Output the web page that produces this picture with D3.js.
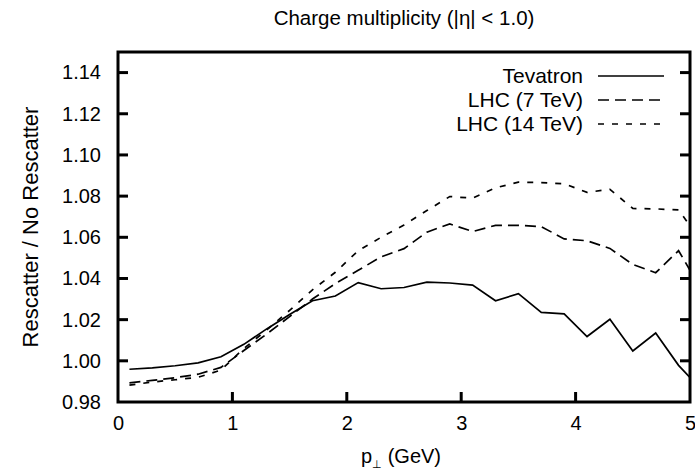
<!DOCTYPE html>
<html>
<head>
<meta charset="utf-8">
<script src="https://cdn.jsdelivr.net/npm/d3@7"></script>
<style>
  body { margin: 0; background: #fff; }
  svg text { font-family: "Liberation Sans", Arial, sans-serif; fill: #000; }
</style>
</head>
<body>
<script>
// pT bin centres (GeV) and ratios
var pt = [0.1, 0.3, 0.5, 0.7, 0.9, 1.1, 1.3, 1.5, 1.7, 1.9, 2.1, 2.3, 2.5,
          2.7, 2.9, 3.1, 3.3, 3.5, 3.7, 3.9, 4.1, 4.3, 4.5, 4.7, 4.9, 5.1];
var tevatron = [0.9959, 0.9966, 0.9976, 0.9990, 1.0020, 1.0080, 1.0155, 1.0225, 1.0292,
                1.0315, 1.0380, 1.0350, 1.0356, 1.0382, 1.0378, 1.0368, 1.0292, 1.0326,
                1.0235, 1.0228, 1.0118, 1.0202, 1.0048, 1.0135, 0.9978, 0.9860];
var lhc7 = [0.9893, 0.9905, 0.9918, 0.9935, 0.9968, 1.0050, 1.0130, 1.0215, 1.0300,
            1.0375, 1.0440, 1.0505, 1.0545, 1.0625, 1.0665, 1.0628, 1.0658, 1.0658,
            1.0652, 1.0592, 1.0583, 1.0546, 1.0468, 1.0428, 1.0535, 1.0345];
var lhc14 = [0.9882, 0.9897, 0.9908, 0.9920, 0.9955, 1.0060, 1.0150, 1.0245, 1.0345,
             1.0430, 1.0535, 1.0600, 1.0660, 1.0730, 1.0798, 1.0790, 1.0840, 1.0868,
             1.0866, 1.0860, 1.0818, 1.0833, 1.0740, 1.0738, 1.0733, 1.0580];
var seriesNames = ["Tevatron", "LHC (7 TeV)", "LHC (14 TeV)"];
var dashes = [null, "11,6", "6,8"];
var xTicks = [0, 1, 2, 3, 4, 5];
var yTicks = [0.98, 1.00, 1.02, 1.04, 1.06, 1.08, 1.10, 1.12, 1.14];

var W = 695, H = 469;
var margin = {top: 52, right: 5, bottom: 67, left: 118};
var width = W - margin.left - margin.right,
    height = H - margin.top - margin.bottom;

var svg = d3.select("body").append("svg")
    .attr("width", W).attr("height", H);

var x = d3.scaleLinear().domain([0, 5]).range([0, width]);
var y = d3.scaleLinear().domain([0.98, 1.15]).range([height, 0]);

var g = svg.append("g")
    .attr("transform", `translate(${margin.left},${margin.top})`);

g.append("clipPath").attr("id", "clip")
  .append("rect").attr("width", width).attr("height", height);

// tick labels
var xAxis = d3.axisBottom(x).tickValues(xTicks).tickFormat(d3.format("d")).tickSize(0).tickPadding(14);
g.append("g").attr("transform", `translate(0,${height})`).call(xAxis)
  .call(a => a.select(".domain").remove())
  .selectAll("text").attr("font-size", 20).attr("font-family", "Liberation Sans, Arial, sans-serif");

var yAxis = d3.axisLeft(y).tickValues(yTicks).tickFormat(d3.format(".2f")).tickSize(0).tickPadding(17);
g.append("g").call(yAxis)
  .call(a => a.select(".domain").remove())
  .selectAll("text").attr("font-size", 20).attr("font-family", "Liberation Sans, Arial, sans-serif");

// inward ticks: left, right, bottom
var tickLen = 10;
var yIn = yTicks.filter(d => d > 0.98);
g.selectAll(".ytl").data(yIn).enter().append("line")
  .attr("x1", 0).attr("x2", tickLen)
  .attr("y1", d => y(d)).attr("y2", d => y(d))
  .attr("stroke", "#000").attr("stroke-width", 3);
g.selectAll(".ytr").data(yIn).enter().append("line")
  .attr("x1", width).attr("x2", width - tickLen)
  .attr("y1", d => y(d)).attr("y2", d => y(d))
  .attr("stroke", "#000").attr("stroke-width", 3);
g.selectAll(".xtb").data(xTicks.filter(d => d > 0 && d < 5)).enter().append("line")
  .attr("x1", d => x(d)).attr("x2", d => x(d))
  .attr("y1", height).attr("y2", height - tickLen)
  .attr("stroke", "#000").attr("stroke-width", 3);

// curves
var all = [tevatron, lhc7, lhc14];
var line = d3.line().x((d, i) => x(pt[i])).y(d => y(d));
g.append("g").attr("clip-path", "url(#clip)")
  .selectAll("path").data(all).enter().append("path")
  .attr("d", line)
  .attr("fill", "none")
  .attr("stroke", "#000")
  .attr("stroke-width", 1.7)
  .attr("stroke-dasharray", (d, i) => dashes[i]);

// frame
g.append("rect").attr("width", width).attr("height", height)
  .attr("fill", "none").attr("stroke", "#000").attr("stroke-width", 3);

// legend
var legend = g.selectAll(".legend").data(seriesNames).enter().append("g")
  .attr("transform", (d, i) => `translate(0,${24 + i * 24})`);
legend.append("text")
  .attr("x", 465).attr("dy", "0.35em")
  .attr("text-anchor", "end").attr("font-size", 21)
  .text(d => d);
legend.append("line")
  .attr("x1", 480).attr("x2", 546)
  .attr("stroke", "#000").attr("stroke-width", 1.7)
  .attr("stroke-dasharray", (d, i) => dashes[i]);

// titles
svg.append("text")
  .attr("x", margin.left + width / 2).attr("y", 25)
  .attr("text-anchor", "middle").attr("font-size", 20.5)
  .text("Charge multiplicity (|η| < 1.0)");

var xl = svg.append("text")
  .attr("x", margin.left + width / 2 - 3).attr("y", 463)
  .attr("text-anchor", "middle").attr("font-size", 20);
xl.append("tspan").text("p");
xl.append("tspan").attr("font-size", 11).attr("dy", 5).text("⊥");
xl.append("tspan").attr("dy", -5).text(" (GeV)");

svg.append("text")
  .attr("transform", `translate(38,${margin.top + height / 2}) rotate(-90)`)
  .attr("text-anchor", "middle").attr("font-size", 22)
  .text("Rescatter / No Rescatter");
</script>
</body>
</html>
